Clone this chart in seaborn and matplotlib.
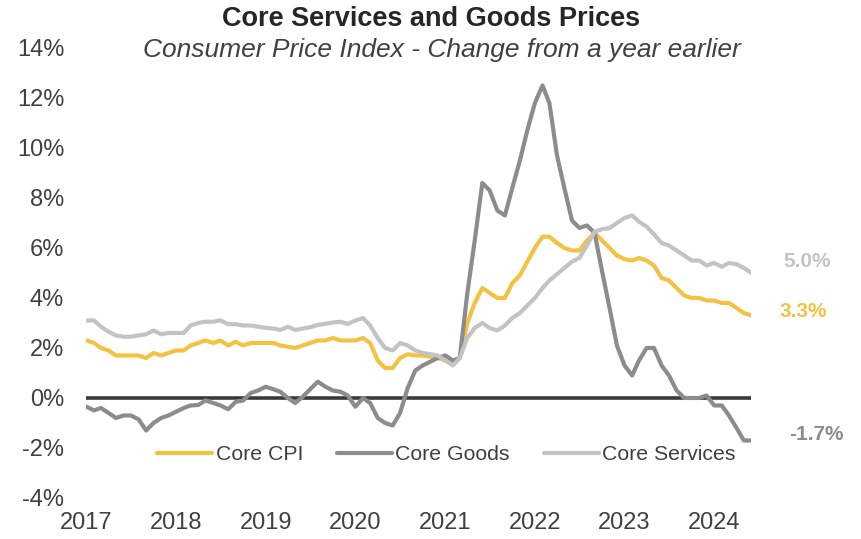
import pandas as pd
import matplotlib.pyplot as plt
import matplotlib.dates as mdates
import seaborn as sns

# Dati mensili: gen 2017 - giu 2024, variazione % annua
months = pd.date_range("2017-01-01", periods=90, freq="MS")

core_cpi = [
    2.3, 2.2, 2.0, 1.9, 1.7, 1.7, 1.7, 1.7, 1.6, 1.8, 1.7, 1.8,
    1.9, 1.9, 2.1, 2.2, 2.3, 2.2, 2.3, 2.1, 2.25, 2.1, 2.2, 2.2,
    2.2, 2.2, 2.1, 2.05, 2.0, 2.1, 2.2, 2.3, 2.3, 2.4, 2.3, 2.3,
    2.3, 2.4, 2.2, 1.5, 1.2, 1.2, 1.6, 1.75, 1.7, 1.7, 1.65, 1.6,
    1.5, 1.4, 1.6, 3.0, 3.8, 4.4, 4.2, 4.0, 4.0, 4.6, 4.9, 5.45,
    6.0, 6.45, 6.45, 6.2, 6.0, 5.9, 5.9, 6.3, 6.6, 6.3, 6.0, 5.7,
    5.55, 5.5, 5.6, 5.5, 5.3, 4.8, 4.7, 4.4, 4.1, 4.0, 4.0, 3.9,
    3.9, 3.8, 3.8, 3.6, 3.4, 3.3,
]

core_goods = [
    -0.35, -0.5, -0.4, -0.6, -0.8, -0.7, -0.7, -0.85, -1.3, -1.0, -0.8, -0.7,
    -0.55, -0.4, -0.3, -0.28, -0.1, -0.2, -0.3, -0.45, -0.15, -0.1, 0.2, 0.3,
    0.45, 0.35, 0.25, 0.0, -0.2, 0.05, 0.35, 0.65, 0.45, 0.3, 0.25, 0.1,
    -0.35, 0.0, -0.2, -0.8, -1.0, -1.1, -0.6, 0.4, 1.1, 1.3, 1.45, 1.6,
    1.7, 1.5, 1.6, 4.2, 6.3, 8.6, 8.3, 7.5, 7.3, 8.4, 9.5, 10.7,
    11.8, 12.5, 11.8, 9.7, 8.4, 7.1, 6.8, 6.9, 6.6, 5.1, 3.6, 2.1,
    1.3, 0.9, 1.5, 2.0, 2.0, 1.3, 0.9, 0.3, 0.0, 0.0, 0.0, 0.1,
    -0.3, -0.3, -0.7, -1.2, -1.7, -1.7,
]

core_services = [
    3.1, 3.1, 2.85, 2.65, 2.5, 2.45, 2.45, 2.5, 2.55, 2.7, 2.55, 2.6,
    2.6, 2.6, 2.9, 3.0, 3.05, 3.05, 3.1, 2.95, 2.95, 2.9, 2.9, 2.85,
    2.8, 2.78, 2.72, 2.85, 2.72, 2.78, 2.83, 2.92, 2.97, 3.02, 3.05, 2.96,
    3.1, 3.2, 2.9, 2.4, 2.0, 1.9, 2.2, 2.1, 1.9, 1.8, 1.75, 1.7,
    1.5, 1.3, 1.6, 2.4, 2.8, 3.0, 2.8, 2.7, 2.9, 3.2, 3.4, 3.7,
    4.0, 4.4, 4.7, 4.95, 5.2, 5.45, 5.6, 6.1, 6.65, 6.75, 6.8, 7.0,
    7.2, 7.3, 7.05, 6.85, 6.55, 6.2, 6.1, 5.9, 5.7, 5.5, 5.5, 5.3,
    5.4, 5.25, 5.4, 5.35, 5.2, 5.0,
]

series_names = ["Core CPI", "Core Goods", "Core Services"]
colors = {"Core CPI": "#F4C242", "Core Goods": "#8C8C8C", "Core Services": "#C3C3C3"}
year_ticks = pd.date_range("2017-01-01", "2024-01-01", freq="YS")

df = pd.DataFrame({"date": months, "Core CPI": core_cpi,
                   "Core Goods": core_goods, "Core Services": core_services})
long_df = df.melt(id_vars="date", var_name="series", value_name="value")

sns.set_theme(style="white")
plt.rcParams["font.family"] = ["Liberation Sans", "DejaVu Sans"]

text_col = "#404040"
fig = plt.figure(figsize=(8.62, 5.39), dpi=100)
ax = fig.add_axes([0.1003, 0.0761, 0.7715, 0.8349])

# Linea dello zero
ax.axhline(0, color="#3A3A3A", linewidth=2.6, zorder=1)

sns.lineplot(data=long_df, x="date", y="value", hue="series", hue_order=series_names,
             palette=colors, linewidth=3, ax=ax, zorder=2)

ax.set_xlim(months[0], months[-1])
ax.set_ylim(-4, 14)
ax.set_yticks(range(-4, 15, 2))
ax.set_yticklabels([f"{t}%" for t in range(-4, 15, 2)])
ax.set_xticks(year_ticks)
ax.xaxis.set_major_formatter(mdates.DateFormatter("%Y"))
ax.tick_params(axis="both", length=0, labelsize=17, colors=text_col)
ax.tick_params(axis="y", pad=16)
ax.tick_params(axis="x", pad=10)
ax.set_xlabel("")
ax.set_ylabel("")
for s in ax.spines.values():
    s.set_visible(False)
ax.grid(False)

# Legenda
handles, labels = ax.get_legend_handles_labels()
leg = ax.legend(handles, labels, loc="center", bbox_to_anchor=(0.518, 0.156),
                bbox_transform=fig.transFigure, ncol=3, frameon=False, fontsize=15.3,
                handlelength=2.6, handletextpad=0.15, columnspacing=1.6)
for h in leg.get_lines():
    h.set_linewidth(3)
for t in leg.get_texts():
    t.set_color(text_col)

# Etichette finali
offsets = {"Core CPI": (20, 3), "Core Goods": (27, 4), "Core Services": (23, 8)}
for name in series_names:
    last = df[name].iloc[-1]
    ax.annotate(f"{last:.1f}%", xy=(months[-1], last), xytext=offsets[name],
                textcoords="offset points", ha="left", va="center",
                fontsize=15, fontweight="bold", color=colors[name], annotation_clip=False)

# Titoli
fig.text(0.5, 0.965, "Core Services and Goods Prices", ha="center", va="center",
         fontsize=19.5, fontweight="bold", color="#262626")
fig.text(0.513, 0.907, "Consumer Price Index - Change from a year earlier", ha="center",
         va="center", fontsize=19, style="italic", color=text_col)

fig.savefig("out.png", dpi=100)
plt.close(fig)
